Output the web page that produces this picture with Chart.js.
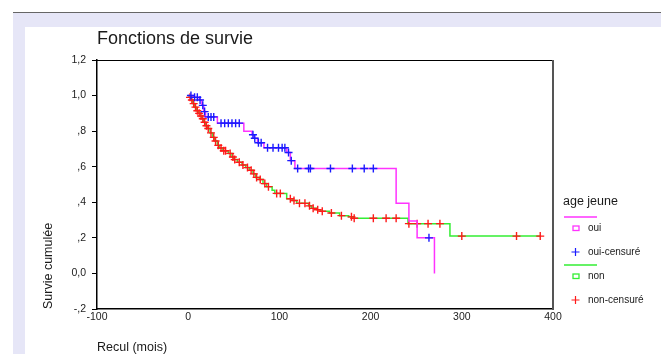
<!DOCTYPE html>
<html>
<head>
<meta charset="utf-8">
<script src="https://cdn.jsdelivr.net/npm/chart.js@4.4.0/dist/chart.umd.min.js"></script>
<style>
  body { margin: 0; background: #fff; width: 661px; height: 354px; overflow: hidden; position: relative; }
  #rule { position: absolute; left: 13px; top: 12px; right: 0; height: 1px; background: #666; }
  #frame { position: absolute; left: 13px; top: 13px; right: 0; bottom: 0; background: #e6e6f7; }
  #panel { position: absolute; left: 25px; top: 27px; width: 636px; height: 327px; background: #fff; }
  canvas { display: block; }
</style>
</head>
<body>
<div id="rule"></div>
<div id="frame"></div>
<div id="panel"><canvas id="survie" width="636" height="327"></canvas></div>
<script>
const chartTitle = 'Fonctions de survie';
const xTitle = 'Recul (mois)';
const yTitle = 'Survie cumulée';
const legendTitle = 'age jeune';
const seriesLabels = ['oui', 'non'];
const censoredLabels = ['oui-censuré', 'non-censuré'];

const xTicks = [-100, 0, 100, 200, 300, 400];
const yTicks = [-0.2, 0, 0.2, 0.4, 0.6, 0.8, 1.0, 1.2];
const yTickLabels = ['-,2', '0,0', ',2', ',4', ',6', ',8', '1,0', '1,2'];

// groupe "oui" : temps, survie cumulee, censure (1 = censure)
const ouiTime = [0, 3, 6, 7, 10, 12, 13, 15, 16, 17, 18, 19, 22, 25, 28, 32, 36, 40, 44, 48, 52, 56,
  61, 70, 71, 72, 73, 76, 77, 80, 83, 87, 93, 99, 103, 106, 108, 110, 112, 113, 117, 120, 132, 134,
  156, 180, 193, 203, 228, 242, 251, 264, 270];
const ouiSurv = [1.0, 1.0, 0.99, 0.99, 0.99, 0.975, 0.975, 0.945, 0.945, 0.91, 0.91, 0.88, 0.88, 0.88, 0.88,
  0.845, 0.845, 0.845, 0.845, 0.845, 0.845, 0.845, 0.80, 0.78, 0.78, 0.76, 0.76, 0.735, 0.735, 0.735,
  0.707, 0.707, 0.707, 0.707, 0.707, 0.707, 0.68, 0.68, 0.634, 0.634, 0.59, 0.59, 0.59, 0.59,
  0.59, 0.59, 0.59, 0.59, 0.394, 0.295, 0.20, 0.20, 0.0];
const ouiCens = [0, 1, 0, 1, 1, 0, 1, 0, 1, 0, 1, 0, 1, 1, 1, 0, 1, 1, 1, 1, 1, 1,
  0, 0, 1, 0, 1, 0, 1, 1, 0, 1, 1, 1, 1, 1, 0, 1, 0, 1, 0, 1, 1, 1,
  1, 1, 1, 1, 0, 0, 0, 1, 0];

// groupe "non"
const nonTime = [0, 1, 2, 3, 4, 5, 6, 7, 8, 9, 10, 11, 12, 13, 14, 15, 16, 17, 18, 19, 20, 21, 22,
  24, 25, 27, 28, 29, 30, 32, 33, 34, 36, 38, 39, 41, 44, 46, 48, 49, 50, 51, 54, 56, 59, 60,
  63, 65, 67, 69, 71, 72, 74, 75, 78, 79, 82, 84, 86, 88, 92, 95, 97, 101, 108, 112, 114, 116,
  119, 122, 128, 132, 133, 135, 137, 141, 142, 145, 147, 155, 157, 166, 168, 176, 179, 181, 182,
  203, 217, 228, 241, 242, 251, 263, 276, 287, 300, 360, 386];
const nonSurv = [1.0, 0.99, 0.99, 0.975, 0.975, 0.955, 0.955, 0.935, 0.935, 0.915, 0.915, 0.90, 0.90,
  0.885, 0.885, 0.87, 0.87, 0.85, 0.85, 0.83, 0.83, 0.815, 0.815,
  0.79, 0.79, 0.765, 0.765, 0.745, 0.745, 0.72, 0.72, 0.705, 0.705, 0.69, 0.69, 0.69, 0.675, 0.675,
  0.655, 0.655, 0.64, 0.64, 0.625, 0.625, 0.61, 0.61,
  0.595, 0.595, 0.58, 0.58, 0.56, 0.56, 0.54, 0.54, 0.528, 0.528, 0.505, 0.505, 0.488, 0.488,
  0.468, 0.45, 0.45, 0.45, 0.42, 0.42, 0.41, 0.41,
  0.394, 0.394, 0.394, 0.38, 0.38, 0.366, 0.366, 0.358, 0.358, 0.35, 0.35, 0.34, 0.34, 0.325, 0.325,
  0.318, 0.318, 0.31, 0.31,
  0.31, 0.31, 0.31, 0.28, 0.28, 0.28, 0.28, 0.28, 0.21, 0.21, 0.21, 0.21];
const nonCens = [0, 0, 1, 0, 1, 0, 1, 0, 1, 0, 1, 0, 1, 0, 1, 0, 1, 0, 1, 0, 1, 0, 1,
  0, 1, 0, 1, 0, 1, 0, 1, 0, 1, 0, 1, 1, 0, 1, 0, 1, 0, 1, 0, 1, 0, 1,
  0, 1, 0, 1, 0, 1, 0, 1, 0, 1, 0, 1, 0, 1, 0, 0, 1, 1, 0, 1, 0, 1,
  0, 1, 1, 0, 1, 0, 1, 0, 1, 0, 1, 0, 1, 0, 1, 0, 1, 0, 1,
  1, 1, 1, 0, 1, 1, 1, 1, 0, 1, 1, 1];

const lineColors = ['#ff33ff', '#33ee33'];
const crossColors = ['#1a1aff', '#ff1a1a'];
const fontFamily = '"Liberation Sans", Arial, sans-serif';

function toPoints(times, surv, cens) {
  let pts = [];
  for (var i = 0; i < times.length; i++) {
    pts.push({ x: times[i], y: surv[i], c: cens[i] });
  }
  return pts;
}

function curve(label, pts, idx) {
  return {
    label: label,
    data: pts,
    stepped: true,
    borderColor: lineColors[idx],
    borderWidth: 1.5,
    fill: false,
    tension: 0,
    pointStyle: 'cross',
    pointRadius: (c) => (c.raw && c.raw.c ? 4 : 0),
    pointBorderColor: crossColors[idx],
    pointBorderWidth: 1.4,
    pointBackgroundColor: crossColors[idx]
  };
}

const decor = {
  id: 'decor',
  afterDraw(chart) {
    const { ctx, chartArea: a } = chart;
    ctx.save();
    // cadre haut et droit
    ctx.strokeStyle = '#000';
    ctx.lineWidth = 1;
    ctx.beginPath();
    ctx.moveTo(a.left, a.top + 0.5);
    ctx.lineTo(a.right, a.top + 0.5);
    ctx.stroke();
    ctx.strokeStyle = '#555';
    ctx.lineWidth = 2;
    ctx.beginPath();
    ctx.moveTo(a.right, a.top);
    ctx.lineTo(a.right, a.bottom + 1);
    ctx.stroke();

    // titre
    ctx.fillStyle = '#1a1a1a';
    ctx.textAlign = 'left';
    ctx.textBaseline = 'alphabetic';
    ctx.font = '18px ' + fontFamily;
    ctx.fillText(chartTitle, 72, 17);

    // legende
    const lx = 538;
    ctx.textBaseline = 'middle';
    ctx.font = '12.5px ' + fontFamily;
    ctx.fillText(legendTitle, lx, 175);
    ctx.font = '10px ' + fontFamily;
    const rows = [190, 238];
    for (var i = 0; i < 2; i++) {
      const y0 = rows[i];
      ctx.strokeStyle = lineColors[i];
      ctx.lineWidth = 1.5;
      ctx.beginPath();
      ctx.moveTo(lx + 1, y0);
      ctx.lineTo(lx + 34, y0);
      ctx.stroke();
      ctx.lineWidth = 1.3;
      ctx.strokeRect(lx + 10, y0 + 9, 6, 4.5);
      ctx.strokeStyle = crossColors[i];
      ctx.lineWidth = 1.2;
      ctx.beginPath();
      ctx.moveTo(lx + 8.5, y0 + 35);
      ctx.lineTo(lx + 16.5, y0 + 35);
      ctx.moveTo(lx + 12.5, y0 + 31);
      ctx.lineTo(lx + 12.5, y0 + 39);
      ctx.stroke();
      ctx.fillStyle = '#1a1a1a';
      ctx.fillText(seriesLabels[i], lx + 25, y0 + 11);
      ctx.fillText(censoredLabels[i], lx + 25, y0 + 35);
    }
    ctx.restore();
  }
};

new Chart(document.getElementById('survie'), {
  type: 'line',
  plugins: [decor],
  data: {
    datasets: [
      curve(seriesLabels[0], toPoints(ouiTime, ouiSurv, ouiCens), 0),
      curve(seriesLabels[1], toPoints(nonTime, nonSurv, nonCens), 1)
    ]
  },
  options: {
    responsive: false,
    animation: false,
    layout: { padding: { left: 0, top: 33, right: 108, bottom: 0 } },
    plugins: {
      legend: { display: false },
      tooltip: { enabled: false }
    },
    scales: {
      x: {
        type: 'linear',
        min: -100,
        max: 400,
        afterBuildTicks: (s) => { s.ticks = xTicks.map(v => ({ value: v })); },
        afterFit: (s) => { s.height = 45; },
        ticks: {
          color: '#222',
          font: { family: fontFamily, size: 10.5 },
          padding: 2,
          maxRotation: 0,
          autoSkip: false,
          callback: (v) => String(v)
        },
        grid: { display: false, drawTicks: false },
        border: { display: true, color: '#000', width: 1.5 },
        title: {
          display: true,
          text: xTitle,
          align: 'start',
          color: '#1a1a1a',
          font: { family: fontFamily, size: 12.5, lineHeight: 1 },
          padding: { top: 0, bottom: 0 }
        }
      },
      y: {
        type: 'linear',
        min: -0.2,
        max: 1.2,
        afterBuildTicks: (s) => { s.ticks = yTicks.map(v => ({ value: v })); },
        afterFit: (s) => { s.width = 72; },
        ticks: {
          color: '#222',
          font: { family: fontFamily, size: 10.5 },
          padding: 6,
          autoSkip: false,
          callback: (v, i) => yTickLabels[i]
        },
        grid: { drawOnChartArea: false, drawTicks: true, tickLength: 5, color: '#000', lineWidth: 1 },
        border: { display: true, color: '#000', width: 1.5 },
        title: {
          display: true,
          text: yTitle,
          align: 'start',
          color: '#1a1a1a',
          font: { family: fontFamily, size: 12.5 },
          padding: { top: 16, bottom: 0 }
        }
      }
    }
  }
});
</script>
</body>
</html>
